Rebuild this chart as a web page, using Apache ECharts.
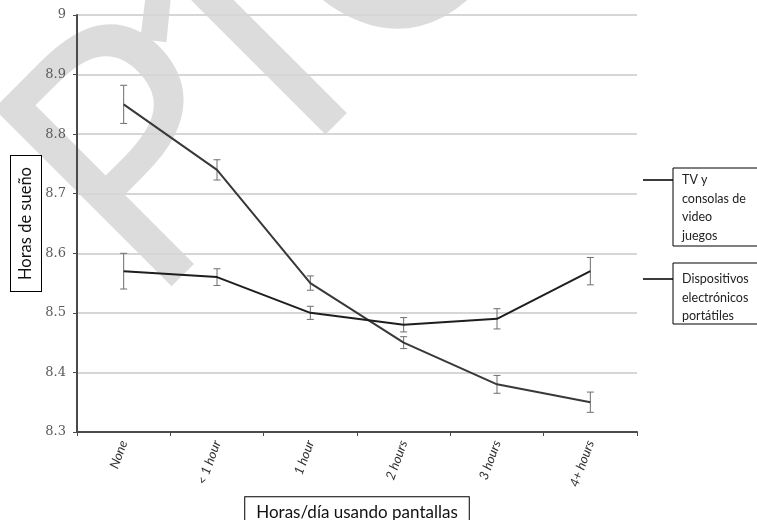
<!DOCTYPE html>
<html><head><meta charset="utf-8">
<script src="https://cdn.jsdelivr.net/npm/echarts@6/dist/echarts.min.js"></script>
<style>html,body{margin:0;padding:0;background:#fff}#c{width:757px;height:520px}</style>
</head><body><div id="c"></div>
<script>
const categories = ['None', '< 1 hour', '1 hour', '2 hours', '3 hours', '4+ hours'];
const tvValues = [8.85, 8.74, 8.55, 8.45, 8.38, 8.35];
const tvErrors = [0.032, 0.017, 0.012, 0.010, 0.015, 0.017];
const portableValues = [8.57, 8.56, 8.50, 8.48, 8.49, 8.57];
const portableErrors = [0.030, 0.014, 0.011, 0.012, 0.017, 0.023];
const yMin = 8.3, yMax = 9, yStep = 0.1;
const tvName = 'TV y consolas de video juegos';
const portableName = 'Dispositivos electrónicos portátiles';
const tvLegend = 'TV y\nconsolas de\nvideo\njuegos';
const portableLegend = 'Dispositivos\nelectrónicos\nportátiles';
const xTitle = 'Horas/día usando pantallas';
const yTitle = 'Horas de sueño';
const watermarkLetters = ['P', '1', 'C'];

function errData(vals, errs) {
  return vals.map((v, i) => [i, v - errs[i], v + errs[i]]);
}
function errRender(params, api) {
  const i = api.value(0);
  const lo = api.coord([i, api.value(1)]);
  const hi = api.coord([i, api.value(2)]);
  const w = 3.5;
  const st = { stroke: '#6e6e6e', lineWidth: 1 };
  return { type: 'group', children: [
    { type: 'line', shape: { x1: hi[0], y1: hi[1], x2: lo[0], y2: lo[1] }, style: st },
    { type: 'line', shape: { x1: hi[0] - w, y1: hi[1], x2: hi[0] + w, y2: hi[1] }, style: st },
    { type: 'line', shape: { x1: lo[0] - w, y1: lo[1], x2: lo[0] + w, y2: lo[1] }, style: st }
  ]};
}
const wmPos = [[201, 364], [312, 255], [430, 140]];
const wmEls = watermarkLetters.map((t, k) => ({
  type: 'text', x: wmPos[k][0], y: wmPos[k][1], rotation: Math.PI / 4, z: -100, silent: true,
  style: { text: t, font: '352px "Noto Sans"', fill: '#dcdcdc', textAlign: 'left', textVerticalAlign: 'bottom' }
}));

const chart = echarts.init(document.getElementById('c'), null, { renderer: 'canvas' });
chart.setOption({
  animation: false,
  backgroundColor: '#fff',
  grid: { left: 77, right: 120, top: 15, bottom: 88, containLabel: false, outerBoundsMode: 'none' },
  xAxis: {
    type: 'category', data: categories, boundaryGap: true,
    name: xTitle, nameLocation: 'middle', nameGap: 52,
    nameTextStyle: { fontFamily: 'Lato', fontSize: 17, color: '#111', borderColor: '#000', borderWidth: 1, padding: [7, 11, 10, 11], backgroundColor: '#fff' },
    axisLine: { lineStyle: { color: '#4a4a4a', width: 2 } },
    axisTick: { show: true, length: 4, inside: false, lineStyle: { color: '#4a4a4a', width: 1 } },
    axisLabel: { rotate: 70, fontStyle: 'italic', fontFamily: 'Lato', fontSize: 13, color: '#333', margin: 9 },
    splitLine: { show: false }
  },
  yAxis: {
    type: 'value', min: yMin, max: yMax, interval: yStep,
    name: yTitle, nameLocation: 'middle', nameRotate: 90, nameGap: 36, nameMoveOverlap: false,
    nameTextStyle: { fontFamily: 'Lato', fontSize: 16.5, color: '#111', borderColor: '#000', borderWidth: 1, padding: [6, 11, 7, 11], backgroundColor: '#fff' },
    axisLine: { show: true, lineStyle: { color: '#4a4a4a', width: 2 } },
    axisTick: { show: true, length: 4, lineStyle: { color: '#4a4a4a' } },
    axisLabel: { fontFamily: 'DejaVu Serif', fontSize: 13, color: '#5a5a5a', margin: 11,
      formatter: v => String(+v.toFixed(1)) },
    splitLine: { lineStyle: { color: '#d6d6d6', width: 2 } }
  },
  graphic: { elements: wmEls.concat([
    { type: 'line', shape: { x1: 643, y1: 180, x2: 673, y2: 180 }, style: { stroke: '#3c3c3c', lineWidth: 2 } },
    { type: 'rect', shape: { x: 673, y: 168, width: 95, height: 78 }, style: { fill: '#fff', stroke: '#000', lineWidth: 1 } },
    { type: 'text', x: 682, y: 171, style: { text: tvLegend, font: '12.5px Lato', lineHeight: 18.5, fill: '#222' } },
    { type: 'line', shape: { x1: 643, y1: 279, x2: 673, y2: 279 }, style: { stroke: '#3c3c3c', lineWidth: 2 } },
    { type: 'rect', shape: { x: 673, y: 263, width: 95, height: 61 }, style: { fill: '#fff', stroke: '#000', lineWidth: 1 } },
    { type: 'text', x: 682, y: 270, style: { text: portableLegend, font: '12.5px Lato', lineHeight: 18.5, fill: '#222' } }
  ])},
  series: [
    { name: tvName + ' error', type: 'custom', renderItem: errRender, data: errData(tvValues, tvErrors), encode: { x: 0, y: [1, 2] }, z: 3, silent: true },
    { name: portableName + ' error', type: 'custom', renderItem: errRender, data: errData(portableValues, portableErrors), encode: { x: 0, y: [1, 2] }, z: 3, silent: true },
    { name: tvName, type: 'line', data: tvValues, symbol: 'none', z: 4, lineStyle: { color: '#383838', width: 2 }, itemStyle: { color: '#383838' } },
    { name: portableName, type: 'line', data: portableValues, symbol: 'none', z: 5, lineStyle: { color: '#1e1e1e', width: 2 }, itemStyle: { color: '#1e1e1e' } }
  ]
});
</script></body></html>
